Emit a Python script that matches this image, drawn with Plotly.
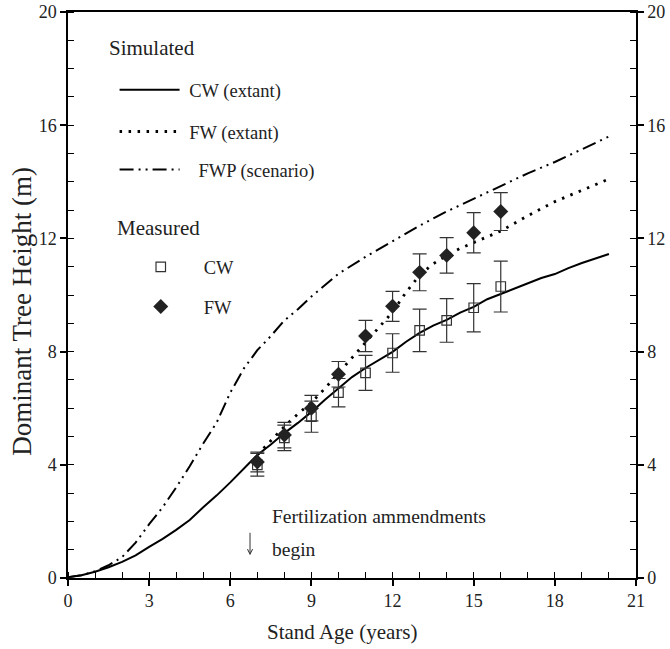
import plotly.graph_objects as go

# ---------------- data ----------------
cw_sim_x = [0, 0.5, 1, 1.5, 2, 2.5, 3, 3.5, 4, 4.5, 5, 5.5, 6, 6.5, 7, 7.5, 8, 8.5, 9, 9.5,
            10, 10.5, 11, 11.5, 12, 12.5, 13, 13.5, 14, 14.5, 15, 15.5, 16, 16.5, 17, 17.5,
            18, 18.5, 19, 19.5, 20]
cw_sim_y = [0.03, 0.1, 0.22, 0.38, 0.57, 0.8, 1.1, 1.38, 1.7, 2.05, 2.5, 2.92, 3.38, 3.85,
            4.35, 4.72, 5.12, 5.48, 5.87, 6.3, 6.71, 7.1, 7.42, 7.7, 7.99, 8.35, 8.66, 8.92,
            9.12, 9.38, 9.58, 9.85, 10.04, 10.22, 10.42, 10.6, 10.74, 10.95, 11.13, 11.28, 11.45]

fw_sim_x = [7, 7.5, 8, 8.5, 9, 9.5, 10, 10.5, 11, 11.5, 12, 12.5, 13, 13.5, 14, 14.5, 15,
            15.5, 16, 17, 18, 19, 20]
fw_sim_y = [4.35, 4.85, 5.35, 5.8, 6.2, 6.7, 7.24, 7.8, 8.3, 8.85, 9.4, 10.1, 10.7, 11.1,
            11.4, 11.65, 11.85, 12.05, 12.26, 12.8, 13.3, 13.7, 14.1]

fwp_sim_x = [0, 0.5, 1, 1.5, 2, 2.5, 3, 3.5, 4, 4.5, 5, 5.5, 6, 6.5, 7, 7.5, 8, 8.5, 9, 9.5,
             10, 11, 12, 13, 14, 15, 16, 17, 18, 19, 20]
fwp_sim_y = [0.03, 0.1, 0.24, 0.45, 0.74, 1.25, 1.9, 2.5, 3.2, 3.95, 4.75, 5.5, 6.55, 7.4,
             8.05, 8.55, 9.1, 9.5, 9.95, 10.35, 10.75, 11.35, 11.9, 12.45, 12.95, 13.4,
             13.85, 14.3, 14.7, 15.15, 15.6]

meas_age = [7, 8, 9, 10, 11, 12, 13, 14, 15, 16]
cw_meas = [4.0, 4.95, 5.7, 6.55, 7.25, 7.95, 8.75, 9.1, 9.55, 10.3]
cw_err = [0.4, 0.45, 0.55, 0.5, 0.62, 0.68, 0.75, 0.77, 0.85, 0.9]
fw_meas = [4.1, 5.05, 6.0, 7.2, 8.55, 9.6, 10.8, 11.4, 12.2, 12.95]
fw_err = [0.35, 0.45, 0.45, 0.45, 0.55, 0.53, 0.65, 0.63, 0.71, 0.67]

x_ticks = [0, 3, 6, 9, 12, 15, 18, 21]
y_ticks = [0, 4, 8, 12, 16, 20]

FONT = "Liberation Serif, Times New Roman, serif"
TXT = "#222222"
NB = "\u00a0"

fig = go.Figure()

fig.add_trace(go.Scatter(x=cw_sim_x, y=cw_sim_y, mode="lines", name=NB + "CW (extant)",
                         line=dict(color="black", width=2), legend="legend"))
fig.add_trace(go.Scatter(x=fw_sim_x, y=fw_sim_y, mode="lines", name=NB + "FW (extant)",
                         line=dict(color="black", width=2.8, dash="2.5px,6.5px"),
                         legend="legend2"))
fig.add_trace(go.Scatter(x=fwp_sim_x, y=fwp_sim_y, mode="lines",
                         name=NB * 3 + "FWP (scenario)",
                         line=dict(color="black", width=2, dash="14px,5px,2px,5px,2px,5px"),
                         legend="legend3"))
fig.add_trace(go.Scatter(x=meas_age, y=cw_meas, mode="markers", name="CW",
                         marker=dict(symbol="square-open", size=9.5, color="#333333",
                                     line=dict(width=1.2)),
                         error_y=dict(type="data", array=cw_err, color="#333333",
                                      thickness=1.2, width=7),
                         legend="legend4"))
fig.add_trace(go.Scatter(x=meas_age, y=fw_meas, mode="markers", name="FW",
                         marker=dict(symbol="diamond", size=11.5, color="#222222"),
                         error_y=dict(type="data", array=fw_err, color="#333333",
                                      thickness=1.2, width=7),
                         legend="legend5"))
# invisible trace to activate the right-hand axis
fig.add_trace(go.Scatter(x=[0], y=[0], yaxis="y2", mode="markers", opacity=0,
                         showlegend=False, hoverinfo="skip"))

def leg(x, y, iw):
    return dict(x=x, y=y, xanchor="left", yanchor="middle", bgcolor="rgba(0,0,0,0)",
                font=dict(family=FONT, size=18.5, color=TXT), itemwidth=iw,
                tracegroupgap=0)

axis_common = dict(ticks="outside", ticklen=6, tickwidth=1.5, tickcolor="black",
                   showline=True, linecolor="black", linewidth=1.5, showgrid=False,
                   zeroline=False, automargin=False, ticklabeloverflow="allow",
                   tickfont=dict(family=FONT, size=18, color=TXT),
                   minor=dict(dtick=1, ticks="inside", ticklen=6, tickcolor="black",
                              tickwidth=1.3, showgrid=False))

fig.update_layout(
    width=670, height=649,
    margin=dict(l=68, r=34, t=12, b=71),
    plot_bgcolor="white", paper_bgcolor="white",
    font=dict(family=FONT, color=TXT),
    legend=leg(0.082, 0.862, 60),
    legend2=leg(0.082, 0.788, 60),
    legend3=leg(0.082, 0.721, 60),
    legend4=leg(0.0876, 0.549, 76),
    legend5=leg(0.0876, 0.479, 76),
    xaxis=dict(range=[0, 21], tickvals=x_ticks, mirror=True, **axis_common),
    yaxis=dict(range=[0, 20], tickvals=y_ticks, **axis_common),
    yaxis2=dict(range=[0, 20], overlaying="y", side="right", tickvals=y_ticks,
                **axis_common),
    showlegend=True,
)

# axis titles
fig.add_annotation(text="Stand Age (years)", xref="paper", yref="paper", x=0.482, y=-0.095,
                   xanchor="center", yanchor="middle", showarrow=False,
                   font=dict(family=FONT, size=21, color=TXT))
fig.add_annotation(text="Dominant Tree Height (m)", xref="paper", yref="paper", x=-0.081,
                   y=0.472, xanchor="center", yanchor="middle", showarrow=False,
                   textangle=-90, font=dict(family=FONT, size=27, color=TXT))

fig.add_annotation(text="Simulated", xref="paper", yref="paper", x=0.069, y=0.936,
                   xanchor="left", yanchor="middle", showarrow=False,
                   font=dict(family=FONT, size=21, color=TXT))
fig.add_annotation(text="Measured", xref="paper", yref="paper", x=0.0827, y=0.618,
                   xanchor="left", yanchor="middle", showarrow=False,
                   font=dict(family=FONT, size=21, color=TXT))
fig.add_annotation(text="Fertilization ammendments", x=7.47, y=2.16, xanchor="left",
                   yanchor="middle", showarrow=False,
                   font=dict(family=FONT, size=19.5, color=TXT))
fig.add_annotation(text="begin", x=7.47, y=0.99, xanchor="left", yanchor="middle",
                   showarrow=False, font=dict(family=FONT, size=19.5, color=TXT))
fig.add_annotation(text="", x=6.73, y=0.8, ax=6.73, ay=1.65, axref="x", ayref="y",
                   showarrow=True, arrowhead=5, arrowsize=1, arrowwidth=1,
                   arrowcolor="#333333")

# remove the default page margin so the figure fills the window exactly
fig.write_html("out.html", config={"displayModeBar": False},
               post_script="document.body.style.margin='0';document.body.style.overflow='hidden';")
